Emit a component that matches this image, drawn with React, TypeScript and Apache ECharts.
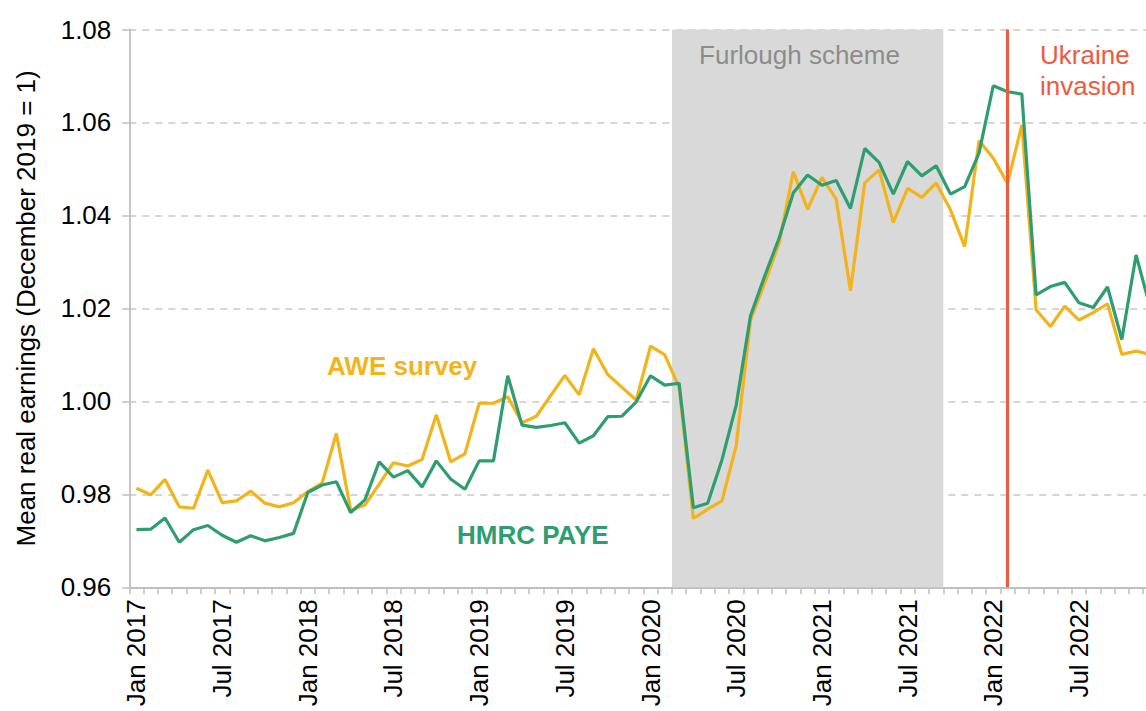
import React, { useEffect, useRef } from "react";
import * as echarts from "echarts";

const MONTHS = ["Jan", "Feb", "Mar", "Apr", "May", "Jun", "Jul", "Aug", "Sep", "Oct", "Nov", "Dec"];
const YEARS = [2017, 2018, 2019, 2020, 2021, 2022];
const categories: string[] = YEARS.flatMap((y) => MONTHS.map((m) => `${m} ${y}`));

const aweSurvey = [
  0.9813, 0.9799, 0.9832, 0.9773, 0.977, 0.9852, 0.9782, 0.9786, 0.9807, 0.9781, 0.9773, 0.9782,
  0.9806, 0.9824, 0.9931, 0.9766, 0.9777, 0.9822, 0.9868, 0.9861, 0.9875, 0.9971, 0.987, 0.9887,
  0.9996, 0.9996, 1.001, 0.9954, 0.9968, 1.0012, 1.0056, 1.0014, 1.0113, 1.0058, 1.003, 1.0003,
  1.0119, 1.01, 1.003, 0.9748, 0.9768, 0.9786, 0.9905, 1.0175, 1.0255, 1.034, 1.0494, 1.0413,
  1.0482, 1.0435, 1.0238, 1.047, 1.0498, 1.0385, 1.0458, 1.0439, 1.047, 1.0412, 1.0333, 1.0561,
  1.0523, 1.0469, 1.0595, 1.0197, 1.0161, 1.0205, 1.0175, 1.0191, 1.021, 1.0101, 1.0108, 1.0101,
];

const hmrcPaye = [
  0.9724, 0.9725, 0.9749, 0.9697, 0.9724, 0.9733, 0.9712, 0.9697, 0.9711, 0.97, 0.9707, 0.9716,
  0.9804, 0.982, 0.9827, 0.9761, 0.9788, 0.987, 0.9837, 0.9851, 0.9816, 0.9872, 0.9833, 0.9811,
  0.9872, 0.9872, 1.0055, 0.9949, 0.9944, 0.9948, 0.9954, 0.991, 0.9926, 0.9967, 0.9968, 0.9999,
  1.0055, 1.0035, 1.0039, 0.9771, 0.9781, 0.9874, 0.9992, 1.0184, 1.027, 1.0351, 1.0449, 1.0487,
  1.0465, 1.0475, 1.0415, 1.0544, 1.0514, 1.0446, 1.0516, 1.0485, 1.0507, 1.0446, 1.0462, 1.0534,
  1.0679, 1.0666, 1.0661, 1.0229, 1.0247, 1.0256, 1.0212, 1.0202, 1.0246, 1.0133, 1.0315, 1.02,
];

const Y_MIN = 0.96;
const Y_MAX = 1.08;
const Y_INTERVAL = 0.02;

const FURLOUGH_START = "Mar 2020";
const FURLOUGH_END = "Sep 2021";
const INVASION_MONTH = "Feb 2022";

const FONT = "'Liberation Sans', Arial, sans-serif";
const ORANGE = "#F2B31B";
const GREEN = "#2E9D6F";
const RED = "#EE5A3E";
const GREY_TEXT = "#8C8C8C";
const AXIS_GREY = "#BFBFBF";

export default function App() {
  const ref = useRef<HTMLDivElement>(null);

  useEffect(() => {
    if (!ref.current) return;
    const chart = echarts.init(ref.current, undefined, { renderer: "svg" });
    const n = categories.length;
    const fs = categories.indexOf(FURLOUGH_START) - 0.5;
    const fe = categories.indexOf(FURLOUGH_END) + 0.5;
    const inv = categories.indexOf(INVASION_MONTH);

    chart.setOption({
      animation: false,
      backgroundColor: "#fff",
      textStyle: { fontFamily: FONT },
      grid: { left: 129.3, right: 12.5, top: 29.5, bottom: 123.7, containLabel: false },
      xAxis: [
        {
          type: "category",
          data: categories,
          boundaryGap: true,
          axisLine: { show: true, onZero: false, lineStyle: { color: AXIS_GREY, width: 1.8 } },
          axisTick: { show: true, interval: 0, length: 7, lineStyle: { color: AXIS_GREY, width: 1.5 } },
          axisLabel: {
            interval: (idx: number) => idx % 6 === 0,
            rotate: 90,
            margin: 12,
            fontSize: 26,
            color: "#000",
            fontFamily: FONT,
          },
          splitLine: { show: false },
        },
        {
          type: "value",
          min: -0.5,
          max: n - 0.5,
          show: false,
        },
      ],
      yAxis: {
        type: "value",
        min: Y_MIN,
        max: Y_MAX,
        interval: Y_INTERVAL,
        name: "Mean real earnings (December 2019 = 1)",
        nameLocation: "middle",
        nameRotate: 90,
        nameGap: 90,
        nameTextStyle: { fontSize: 26, color: "#000", fontFamily: FONT },
        axisLine: { show: true, onZero: false, lineStyle: { color: AXIS_GREY, width: 1.8 } },
        axisTick: { show: true, length: 7, lineStyle: { color: AXIS_GREY, width: 1.5 } },
        axisLabel: {
          fontSize: 26,
          color: "#000",
          margin: 18,
          fontFamily: FONT,
          formatter: (v: number) => v.toFixed(2),
        },
        splitLine: { show: true, lineStyle: { color: "#C8C8C8", width: 1.5, type: [7, 6] } },
      },
      series: [
        {
          name: "AWE survey",
          type: "line",
          xAxisIndex: 1,
          data: aweSurvey.map((v, i) => [i, v]),
          showSymbol: false,
          symbol: "none",
          lineStyle: { color: ORANGE, width: 3.2 },
          itemStyle: { color: ORANGE },
          z: 3,
          markArea: {
            silent: true,
            itemStyle: { color: "#D9D9D9" },
            data: [[{ xAxis: fs }, { xAxis: fe }]],
          },
        },
        {
          name: "HMRC PAYE",
          type: "line",
          xAxisIndex: 1,
          data: hmrcPaye.map((v, i) => [i, v]),
          showSymbol: false,
          symbol: "none",
          lineStyle: { color: GREEN, width: 3.2 },
          itemStyle: { color: GREEN },
          z: 4,
          markLine: {
            silent: true,
            symbol: ["none", "none"],
            label: { show: false },
            lineStyle: { color: RED, width: 3, type: "solid" },
            data: [{ xAxis: inv }],
          },
        },
      ],
      graphic: [
        {
          type: "text",
          x: 799.5,
          y: 55,
          z: 100,
          style: {
            text: "Furlough scheme",
            fill: GREY_TEXT,
            fontSize: 26,
            fontFamily: FONT,
            align: "center",
            verticalAlign: "middle",
          },
        },
        {
          type: "text",
          x: 1040,
          y: 70.5,
          z: 100,
          style: {
            text: "Ukraine\ninvasion",
            fill: RED,
            fontSize: 26,
            lineHeight: 31,
            fontFamily: FONT,
            align: "left",
            verticalAlign: "middle",
          },
        },
        {
          type: "text",
          x: 327,
          y: 366,
          z: 100,
          style: {
            text: "AWE survey",
            fill: ORANGE,
            fontSize: 26,
            fontWeight: "bold",
            fontFamily: FONT,
            align: "left",
            verticalAlign: "middle",
          },
        },
        {
          type: "text",
          x: 457,
          y: 535,
          z: 100,
          style: {
            text: "HMRC PAYE",
            fill: GREEN,
            fontSize: 26,
            fontWeight: "bold",
            fontFamily: FONT,
            align: "left",
            verticalAlign: "middle",
          },
        },
      ],
    });

    return () => chart.dispose();
  }, []);

  return (
    <div
      style={{
        position: "absolute",
        left: 0,
        top: 0,
        width: 1146,
        height: 711,
        overflow: "hidden",
        background: "#fff",
      }}
    >
      <div ref={ref} style={{ width: 1170, height: 711 }} />
    </div>
  );
}
